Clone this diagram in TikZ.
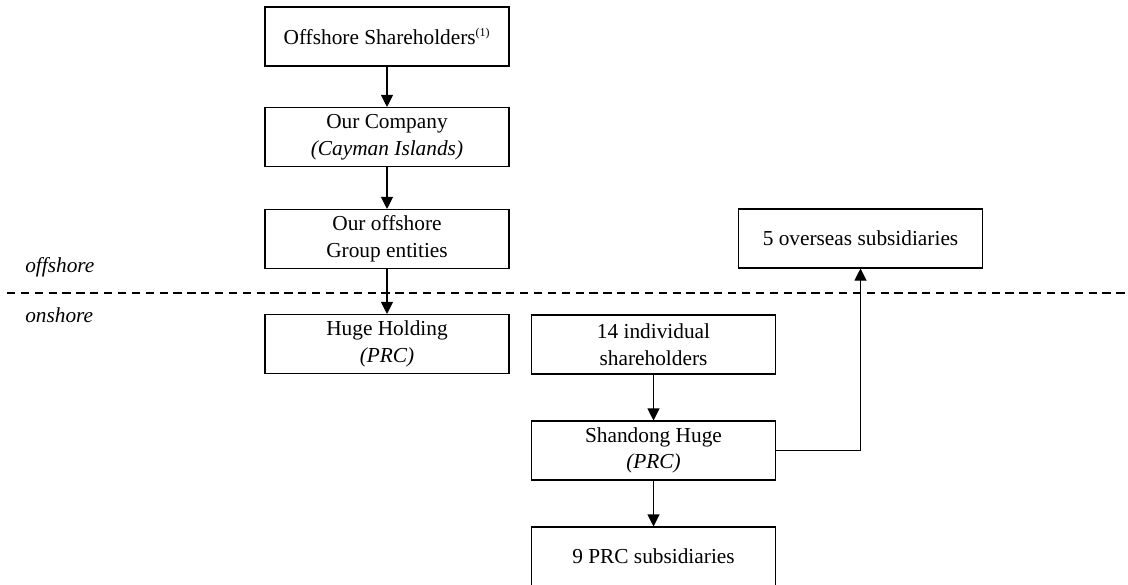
\documentclass[tikz,border=0pt]{standalone}
\usepackage{fontspec}
\setmainfont{Liberation Serif}
\usetikzlibrary{arrows.meta}
\begin{document}
\begin{tikzpicture}[x=0.75pt,y=-0.75pt,
  box/.style={draw, line width=0.8pt, minimum width=183pt, minimum height=44.25pt, inner sep=0pt, align=center, font=\fontsize{16}{20}\selectfont},
  conn/.style={draw, line width=0.8pt, -{Triangle[width=9pt,length=9pt]}},
  divider/.style={line width=0.8pt, dash pattern=on 6.2pt off 4.2pt},
  lbl/.style={font=\fontsize{16}{20}\selectfont\itshape, anchor=west, inner sep=0pt}]
\useasboundingbox (0,0) rectangle (1128,585);
\node[box] (sh) at (387,36.5) {Offshore Shareholders\textsuperscript{\fontsize{9}{9}\selectfont(1)}};
\node[box] (co) at (387,137) {Our Company\\\textit{(Cayman Islands)}};
\node[box] (og) at (387,239) {Our offshore\\Group entities};
\node[box] (ov) at (860.5,238.5) {5 overseas subsidiaries};
\node[box] (hh) at (387,344) {Huge Holding\\\textit{(PRC)}};
\node[box] (is) at (653.5,344.5) {14 individual\\shareholders};
\node[box] (sd) at (653.5,450.5) {Shandong Huge\\\textit{(PRC)}};
\node[box] (ps) at (653.5,556.5) {9 PRC subsidiaries};
\coordinate (dl) at (7,293);
\coordinate (dr) at (1128,293);
\draw[divider] (dl) -- (dr);
\node[lbl] (off) at (25,267) {offshore};
\node[lbl] (on) at (25,315) {onshore};
\draw[conn] (sh.south) -- (co.north);
\draw[conn] (co.south) -- (og.north);
\draw[conn] (og.south) -- (hh.north);
\draw[conn] (is.south) -- (sd.north);
\draw[conn] (sd.south) -- (ps.north);
\draw[conn] (sd.east) -| (ov.south);
\end{tikzpicture}
\end{document}
